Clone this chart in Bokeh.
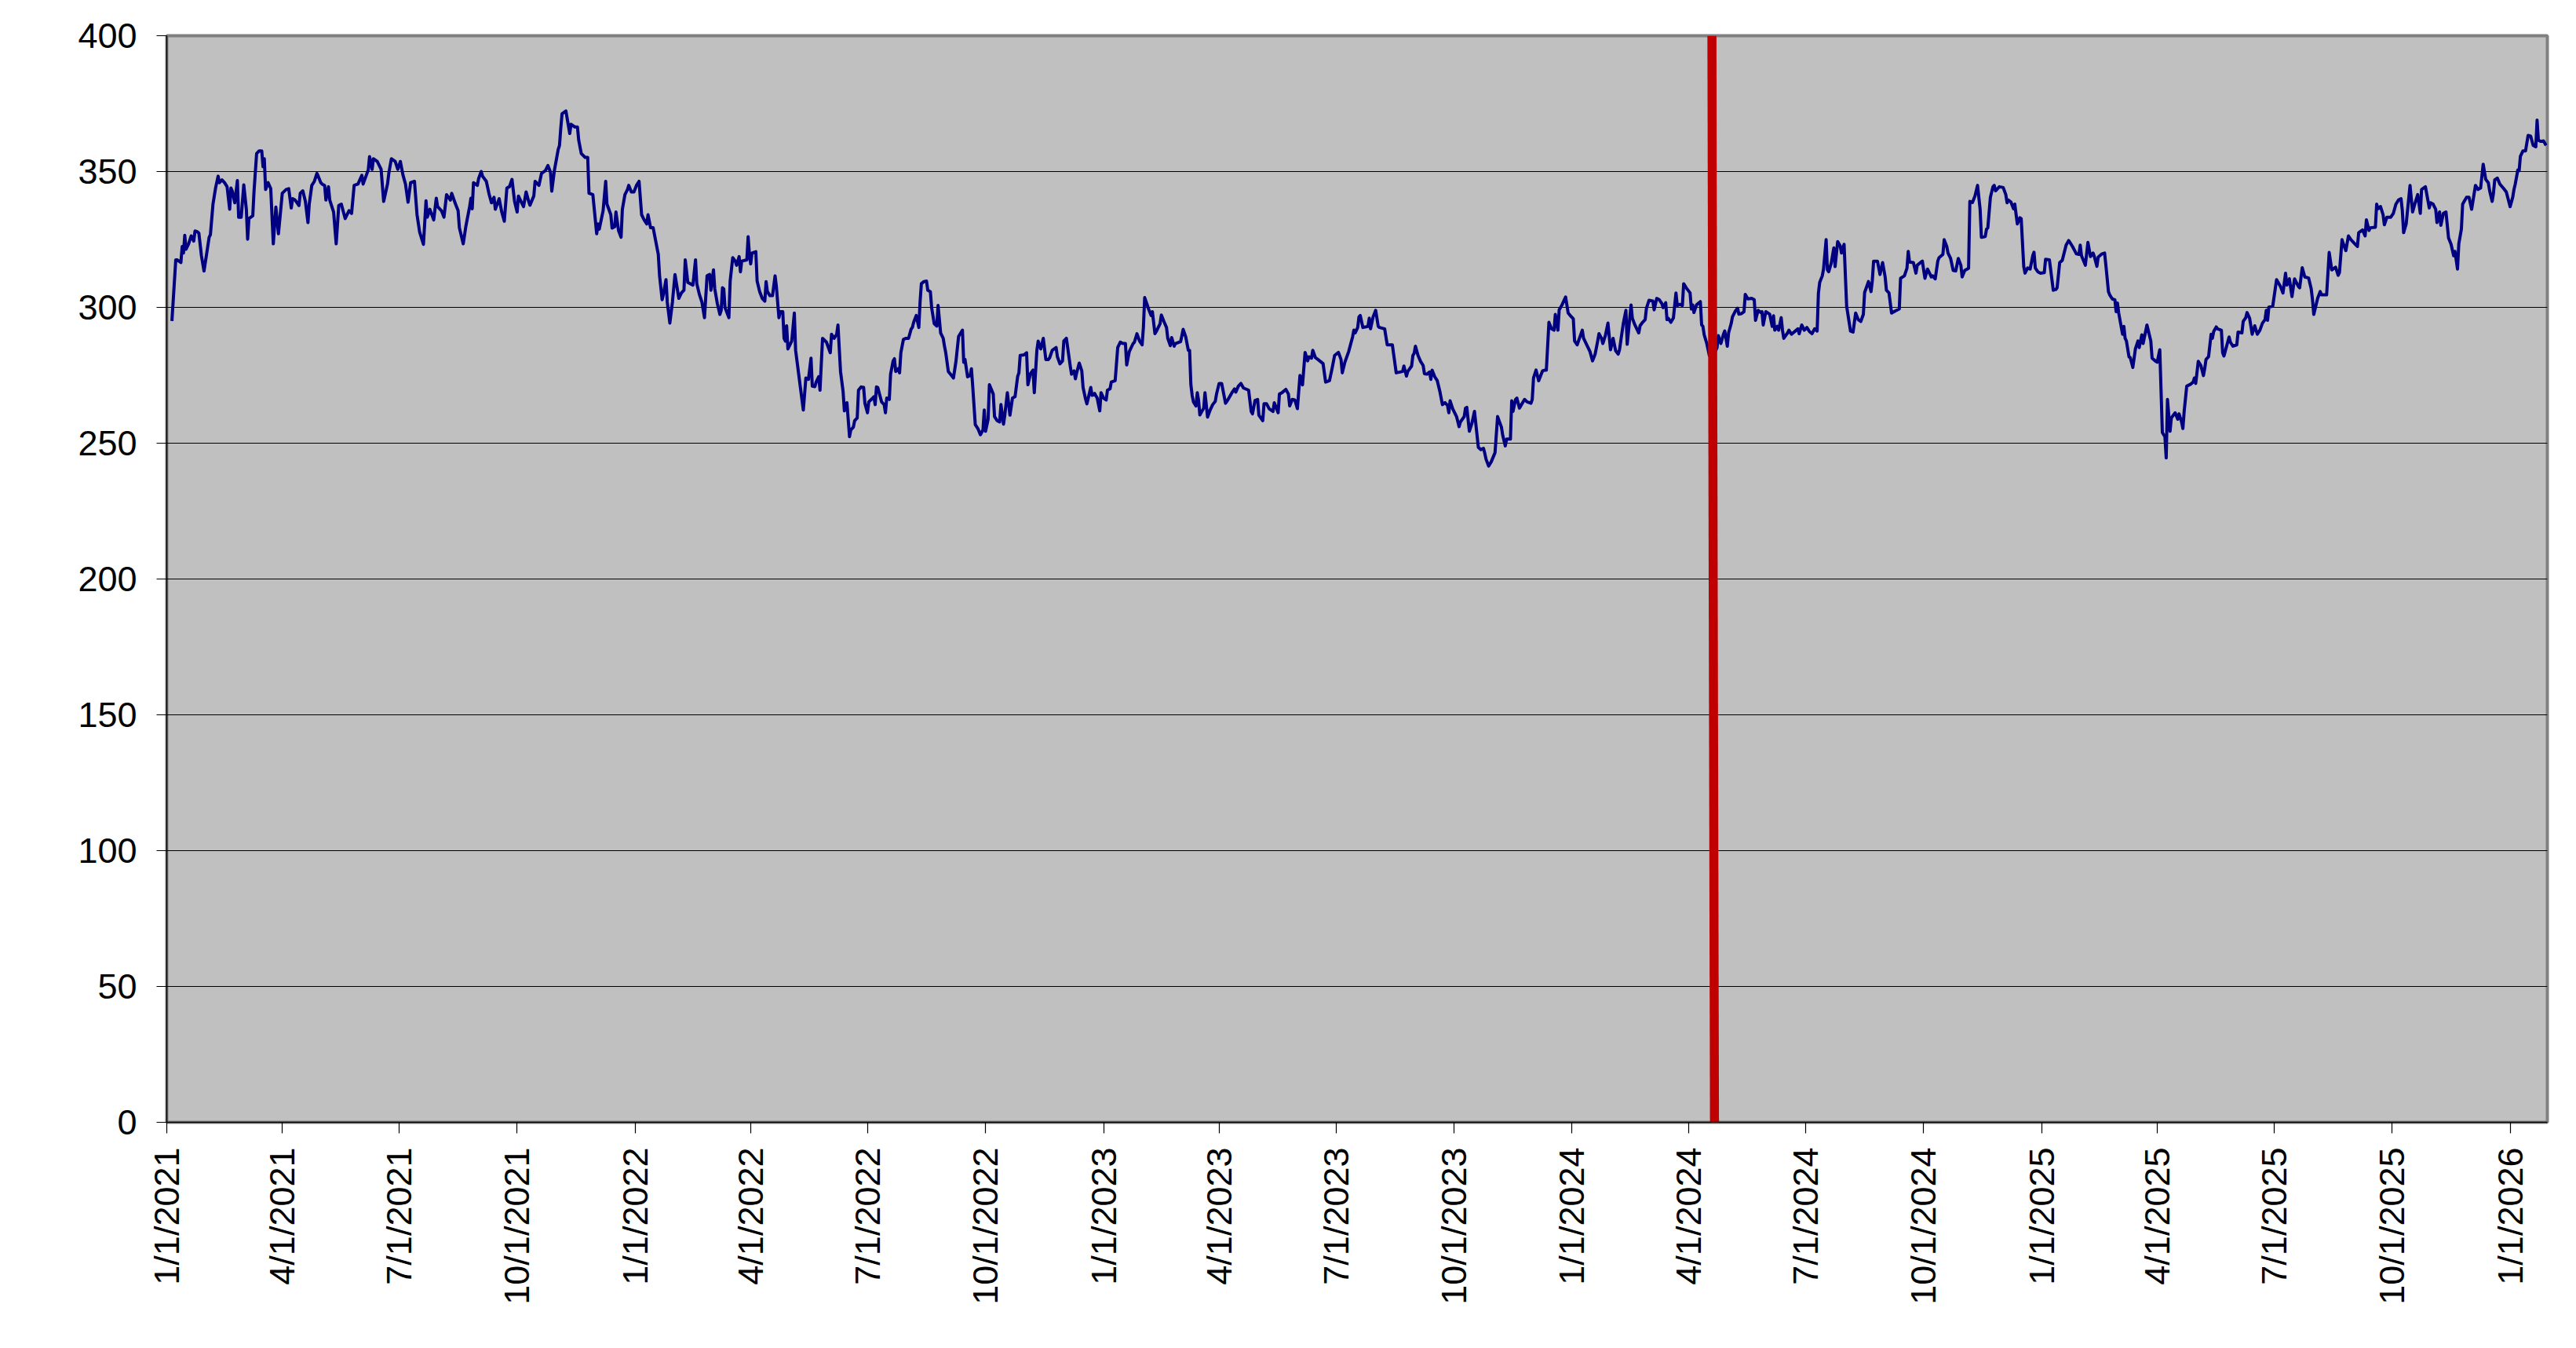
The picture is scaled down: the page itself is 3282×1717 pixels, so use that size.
import math
import pandas as pd
from bokeh.plotting import figure
from bokeh.models import FixedTicker, CustomJSTickFormatter, Range1d
from bokeh.embed import file_html
from bokeh.resources import INLINE

# ---------------- data ----------------
start_date = "2021-01-01"          # day 0 of the series offsets
x_end_date = "2026-01-30"          # right end of the date axis

# observation day (days since start_date) and value
day_offset = [
    4, 7, 8, 11, 12, 13, 14, 15, 17, 19, 21, 22, 24, 25, 27, 29, 31, 33, 34, 36, 38, 40, 41, 43, 45, 47, 49, 50,
    51, 53, 55, 56, 58, 60, 62, 63, 64, 67, 68, 70, 72, 74, 75, 76, 77, 79, 81, 83, 85, 87, 90, 93, 95, 97, 98,
    100, 103, 104, 106, 108, 110, 111, 113, 115, 117, 118, 120, 121, 123, 124, 126, 127, 130, 132, 134, 136, 139,
    142, 144, 146, 149, 152, 153, 157, 158, 160, 161, 164, 167, 169, 172, 173, 175, 178, 180, 182, 184, 186, 188,
    190, 193, 195, 197, 200, 202, 203, 205, 208, 210, 211, 214, 216, 218, 221, 222, 225, 227, 228, 231, 233, 236,
    237, 238, 239, 242, 243, 245, 246, 249, 251, 253, 255, 256, 259, 261, 263, 265, 267, 269, 271, 273, 274, 276,
    278, 280, 282, 283, 286, 287, 290, 292, 295, 297, 299, 300, 302, 305, 306, 307, 308, 311, 314, 315, 318, 320,
    321, 323, 326, 328, 329, 332, 335, 336, 337, 340, 342, 343, 346, 347, 349, 350, 352, 354, 355, 357, 359, 360,
    362, 364, 366, 368, 370, 372,
    374, 375, 377, 379, 381, 383, 384, 386, 387, 389, 390, 392, 394, 396, 399, 401, 403, 404, 406, 410, 412, 413,
    415, 417, 419, 421, 423, 424, 426, 427, 429, 431, 432, 433, 434, 435, 438, 439, 441, 443, 444, 446, 447, 448,
    452, 453, 454, 455, 456, 459, 460, 462, 464, 466, 467, 468, 470, 472, 474, 475, 477, 478, 480, 481, 482, 483,
    484, 487, 489, 490, 494, 496, 497, 498, 500, 502, 503, 505, 506, 508, 509, 511, 514, 517, 518, 520, 522, 523,
    525, 527, 528, 530, 532, 533, 535, 536, 538, 539, 541, 543, 544, 546, 547, 549, 551, 552, 553, 554, 557, 559,
    560, 561, 563, 564, 566, 567, 568, 570, 571, 572, 574, 576, 578, 580, 581, 582, 584, 586, 587, 588, 590, 592,
    593, 595, 596, 598, 600, 601, 603, 605, 606, 607, 609, 611, 613, 615, 617, 620, 621, 622, 624, 626, 627, 628,
    630, 632, 634, 636, 637, 638, 640, 641, 644, 645, 647, 649, 650, 652, 653, 655, 657, 659, 661, 663, 664, 665,
    668, 670, 671, 673, 675, 676, 678, 679, 681, 683, 685, 687, 688, 690, 693, 694, 696, 698, 699, 701, 704, 705,
    707, 708, 709, 711, 713, 714, 716, 717, 720, 721, 723, 725, 727, 728, 730, 732, 733, 735, 736, 739, 741, 743,
    745,
    747, 748, 750, 753, 754, 756, 758, 760, 761, 762, 764, 765, 767, 768, 770, 771, 774, 775, 777, 779, 780, 782,
    783, 785, 786, 790, 791, 792, 794, 796, 797, 798, 799, 800, 802, 803, 804, 805, 808, 809, 811, 813, 815, 817,
    818, 820, 822, 825, 827, 830, 832, 833, 835, 837, 839, 843, 845, 846, 848, 850, 851, 854, 855, 857, 859, 862,
    863, 866, 867, 869, 872, 874, 875, 877, 879, 881, 883, 885, 887, 889, 890, 892, 893, 895, 897, 901, 903, 906,
    908, 910, 913, 915, 916, 918, 921, 924, 925, 926, 928, 929, 930, 932, 936, 937, 938, 940, 942, 944, 945, 949,
    951, 955, 958, 961, 963, 964, 966, 967, 970, 971, 972, 973, 975, 977, 979, 980, 982, 984, 985, 986, 988, 990,
    992, 994, 996, 998, 999, 1000, 1002, 1005, 1007, 1008, 1011, 1012, 1013, 1015, 1017, 1019, 1022, 1024, 1026,
    1027, 1028, 1030, 1032, 1035, 1037, 1040, 1041, 1043, 1044, 1047, 1048, 1049, 1051, 1052, 1054, 1058, 1060,
    1063, 1064, 1065, 1067, 1069, 1072, 1074, 1075, 1077, 1079, 1081, 1082, 1084, 1085, 1087, 1089, 1090, 1092,
    1094, 1096, 1097, 1099, 1101, 1103, 1104, 1106, 1109, 1111, 1113, 1115, 1116, 1118,
    1119, 1121, 1123, 1125, 1127, 1129, 1131, 1132, 1135, 1137, 1138, 1141, 1142, 1144, 1147, 1148, 1150, 1152,
    1153, 1155, 1158, 1159, 1161, 1163, 1165, 1166, 1168, 1169, 1170, 1172, 1174, 1176, 1177, 1179, 1181, 1182,
    1184, 1187, 1188, 1189, 1190, 1192, 1195, 1196, 1197, 1198, 1200, 1202, 1204, 1208, 1209, 1211, 1213, 1214,
    1216, 1217, 1219, 1220, 1222, 1224, 1225, 1227, 1229, 1230, 1232, 1235, 1237, 1238, 1240, 1242, 1243, 1244,
    1246, 1249, 1251, 1252, 1253, 1255, 1256, 1258, 1259, 1260, 1263, 1264, 1266, 1269, 1271, 1272, 1274, 1276,
    1278, 1280, 1282, 1284, 1286, 1287, 1288, 1290, 1291, 1293, 1294, 1295, 1297, 1299, 1300, 1302, 1304, 1305,
    1307, 1309, 1312, 1314, 1316, 1318, 1320, 1322, 1323, 1324, 1326, 1328, 1329, 1330, 1333, 1335, 1337, 1339,
    1340, 1342, 1344, 1347, 1350, 1351, 1354, 1356, 1357, 1358, 1361, 1363, 1364, 1367, 1368, 1370, 1372, 1375,
    1376, 1378, 1380, 1381, 1384, 1385, 1387, 1388, 1390, 1392, 1394, 1396, 1398, 1399, 1401, 1404, 1405, 1407,
    1409, 1411, 1413, 1414, 1417, 1418, 1419, 1421, 1423, 1424, 1425, 1428, 1431, 1433, 1434, 1435, 1437, 1439,
    1440, 1442, 1444, 1445, 1447, 1448, 1450, 1452, 1454, 1455, 1456, 1458, 1460, 1463, 1464, 1467, 1468, 1470,
    1472, 1473, 1475, 1477, 1480, 1482, 1483, 1485, 1488, 1490,
    1491, 1492, 1495, 1497, 1499, 1501, 1502, 1504, 1505, 1508, 1510, 1511, 1513, 1514, 1516, 1518, 1519, 1520,
    1521, 1524, 1525, 1526, 1527, 1529, 1530, 1532, 1534, 1536, 1537, 1539, 1540, 1543, 1545, 1546, 1547, 1550,
    1551, 1553, 1555, 1557, 1558, 1559, 1561, 1562, 1565, 1567, 1568, 1570, 1571, 1572, 1574, 1577, 1579, 1580,
    1581, 1583, 1585, 1587, 1588, 1589, 1591, 1593, 1594, 1595, 1597, 1598, 1601, 1602, 1603, 1604, 1607, 1608,
    1610, 1613, 1614, 1617, 1618, 1620, 1621, 1623, 1625, 1627, 1629, 1631, 1633, 1635, 1636, 1637, 1638, 1641,
    1644, 1647, 1649, 1651, 1652, 1654, 1656, 1658, 1661, 1662, 1664, 1666, 1669, 1671, 1672, 1673, 1676, 1678,
    1679, 1683, 1685, 1687, 1690, 1692, 1693, 1695, 1696, 1698, 1700, 1702, 1705, 1707, 1708, 1711, 1713, 1714,
    1716, 1717, 1721, 1722, 1723, 1725, 1727, 1728, 1730, 1733, 1735, 1737, 1739, 1741, 1742, 1743, 1745, 1748,
    1750, 1752, 1754, 1756, 1757, 1760, 1763, 1764, 1766, 1768, 1769, 1771, 1772, 1774, 1776, 1778, 1780, 1782,
    1783, 1785, 1786, 1788, 1789, 1792, 1794, 1796, 1799, 1801, 1803, 1805, 1807, 1809, 1810, 1812, 1813, 1814,
    1816, 1818, 1821, 1823, 1826, 1828, 1829, 1830, 1832, 1833, 1834, 1836, 1838, 1840, 1842, 1844, 1846, 1847,
    1848, 1850, 1852, 1854,
]

value = [
    295.0, 317.5, 317.5, 316.5, 322.4, 320.0, 326.5, 321.4, 323.4, 326.3, 324.4, 328.1, 327.8, 327.3, 319.0, 313.4,
    319.5, 325.8, 326.8, 338.0, 343.9, 348.3, 345.9, 346.9, 345.9, 344.4, 336.1, 343.9, 342.9, 338.5, 346.7, 333.2,
    333.2, 345.1, 336.1, 325.1, 332.7, 333.7, 342.9, 356.6, 357.6, 357.6, 351.8, 354.7, 343.4, 345.9, 343.7, 323.4,
    336.9, 327.1, 342.0, 343.4, 343.7, 336.6, 340.0, 339.5, 337.5, 342.0, 342.9, 339.0, 331.2, 338.0, 344.9, 346.4,
    349.3, 348.3, 345.9, 345.4, 344.9, 339.5, 344.4, 339.5, 335.1, 323.4, 337.5, 338.0, 332.7, 335.6, 334.6, 344.9,
    345.4, 348.6, 345.4, 350.6, 355.5, 350.8, 354.7, 353.7, 350.8, 339.0, 345.4, 349.3, 354.7, 353.7, 350.8, 353.7,
    348.8, 345.4, 338.7, 345.9, 346.4, 334.1, 327.8, 323.2, 339.2, 333.2, 336.1, 332.2, 340.2, 337.1, 335.6, 333.2,
    341.5, 339.5, 342.0, 338.0, 335.6, 329.3, 323.4, 329.7, 337.1, 340.2, 336.3, 345.9, 344.9, 347.4, 350.0, 348.3,
    346.4, 342.0, 338.5, 340.5, 336.1, 340.0, 335.1, 331.7, 343.9, 344.4, 347.1, 339.0, 335.1, 341.0, 339.0, 337.1,
    342.5, 339.0, 337.6, 341.0, 346.4, 344.9, 349.3, 350.3, 352.2, 349.8, 342.8, 350.3, 358.1, 359.6, 365.9, 371.3,
    372.3, 364.0, 367.4, 366.4, 366.4, 361.5, 356.6, 355.2, 355.2, 342.0, 341.5, 327.1, 330.7, 328.8, 335.6, 346.4,
    338.0, 334.1, 329.2, 329.7, 335.1, 328.3, 325.8, 336.1, 341.5, 343.4, 344.9, 342.5, 342.5, 344.9, 346.4, 334.1,
    332.2,
    330.7, 334.1, 329.3, 329.3, 324.4, 319.5, 311.6, 302.8, 304.8, 310.2, 301.9, 294.2, 301.9, 312.1, 303.3, 305.3,
    306.3, 317.5, 309.2, 308.2, 317.5, 308.7, 304.8, 301.9, 296.2, 311.6, 312.1, 306.3, 313.8, 306.8, 301.4, 297.4,
    298.9, 307.2, 306.8, 299.9, 296.2, 309.7, 318.3, 317.0, 315.5, 318.7, 313.1, 317.0, 317.5, 326.0, 319.5, 316.0,
    320.0, 320.5, 309.7, 305.8, 303.3, 302.3, 309.5, 305.8, 304.3, 304.3, 311.6, 307.7, 296.2, 298.4, 298.4, 288.6,
    287.6, 293.2, 284.7, 287.6, 297.9, 284.2, 269.5, 262.2, 268.1, 274.0, 273.5, 281.3, 271.0, 270.8, 272.5, 274.5,
    269.5, 288.6, 287.2, 283.3, 290.1, 288.6, 290.1, 293.5, 276.4, 269.0, 261.9, 264.9, 252.4, 254.9, 255.9, 258.3,
    259.3, 269.5, 270.7, 270.5, 264.7, 261.2, 265.2, 266.1, 267.1, 264.2, 270.7, 270.5, 265.2, 264.2, 261.2, 266.6,
    266.1, 275.4, 280.3, 281.1, 276.4, 277.4, 275.9, 283.3, 288.2, 288.6, 288.6, 292.0, 292.6, 294.5, 297.0, 292.6,
    302.1, 308.7, 309.5, 309.7, 306.3, 305.8, 299.9, 294.0, 293.1, 300.7, 290.6, 288.6, 285.7, 283.3, 276.4, 275.2,
    274.0, 280.3, 289.3, 291.6, 279.8, 280.8, 274.4, 274.9, 277.4, 271.0, 256.8, 255.4, 253.1, 254.9, 262.2, 254.4,
    258.8, 271.5, 268.1, 259.8, 258.3, 257.8, 264.2, 257.0, 260.3, 268.6, 260.3, 266.6, 267.1, 274.5, 275.9, 282.3,
    282.5, 283.3, 271.5, 275.6, 276.9, 268.6, 284.2, 287.6, 284.7, 288.6, 280.8, 280.8, 281.5, 284.2, 285.2, 281.8,
    279.2, 280.3, 287.6, 288.6, 278.4, 275.4, 276.6, 273.7, 275.9, 279.5, 276.6, 270.5, 266.1, 264.5, 270.5, 267.6,
    268.3, 266.6, 261.9, 268.6, 266.6, 265.9, 269.5, 270.0, 272.5, 273.0, 285.2, 287.2, 286.7,
    286.7, 278.8, 283.7, 286.7, 287.2, 290.3, 287.6, 286.2, 292.6, 303.6, 300.9, 299.4, 297.0, 298.4, 290.3, 291.1,
    294.0, 297.2, 294.8, 292.6, 288.6, 285.9, 288.9, 285.7, 286.7, 287.4, 289.6, 291.9, 289.1, 284.2, 284.2, 271.5,
    267.6, 265.2, 263.7, 268.6, 265.7, 260.4, 262.9, 268.6, 259.6, 262.2, 264.2, 265.4, 268.1, 272.0, 272.0, 264.7,
    266.1, 268.6, 270.0, 268.8, 271.0, 272.0, 270.3, 269.5, 261.7, 260.8, 265.7, 266.1, 260.3, 258.3, 264.5, 264.5,
    262.7, 261.7, 264.9, 261.2, 268.1, 268.6, 269.8, 268.1, 263.7, 266.1, 265.9, 262.7, 274.9, 271.5, 283.4, 280.3,
    281.8, 281.3, 284.2, 281.5, 280.8, 279.3, 272.5, 273.0, 277.4, 282.3, 283.4, 280.8, 275.9, 279.8, 283.8, 289.1,
    291.6, 290.6, 292.6, 296.5, 297.0, 292.6, 293.0, 296.0, 292.1, 296.5, 298.9, 293.0, 292.6, 292.1, 286.2, 286.2,
    275.9, 276.2, 276.4, 278.4, 274.7, 276.4, 278.4, 282.3, 283.1, 285.7, 282.3, 280.1, 278.6, 275.6, 275.4, 276.2,
    273.5, 276.9, 274.5, 273.0, 269.1, 264.2, 264.9, 263.9, 261.2, 265.6, 262.7, 259.8, 256.1, 257.8, 259.8, 262.9,
    263.2, 254.4, 257.3, 261.7, 248.5, 247.6, 248.1, 246.3, 244.1, 241.6, 243.1, 246.5, 259.8, 255.9, 252.9, 249.0,
    251.5, 251.5, 265.6, 261.7, 266.1, 266.6, 262.9, 266.1, 265.2, 264.7, 266.1, 274.0, 276.9, 273.0, 276.6, 276.9,
    276.9, 294.5, 292.1, 291.6, 297.4, 291.6, 299.1, 300.7, 302.8, 303.8, 297.9, 296.8, 295.8, 287.6, 286.2, 288.9,
    291.6, 288.6, 286.7, 283.7, 280.3, 282.8, 287.6, 290.3, 288.6,
    286.7, 289.6, 294.2, 284.4, 288.6, 284.0, 282.8, 284.4, 294.2, 298.9, 286.4, 300.9, 296.0, 293.5, 290.6, 293.2,
    294.5, 295.5, 299.7, 302.6, 302.3, 299.1, 303.3, 302.8, 301.4, 299.9, 301.7, 295.5, 296.0, 294.5, 296.1, 305.3,
    300.7, 301.1, 300.7, 308.7, 307.2, 305.3, 299.4, 300.9, 298.1, 300.9, 302.1, 293.5, 293.0, 289.9, 286.7, 282.3,
    281.0, 285.2, 289.6, 286.7, 290.1, 291.3, 285.7, 290.6, 294.0, 296.5, 298.4, 299.7, 297.5, 297.7, 298.4, 304.8,
    303.1, 303.3, 302.8, 295.2, 298.9, 298.1, 298.4, 293.5, 298.4, 297.5, 293.0, 296.9, 291.6, 293.0, 291.6, 296.2,
    291.6, 288.6, 290.6, 291.6, 290.1, 291.3, 292.1, 290.3, 293.5, 291.6, 292.6, 291.1, 290.3, 292.1, 291.3, 305.3,
    309.2, 311.6, 314.1, 324.9, 313.8, 313.1, 316.3, 321.9, 315.0, 324.2, 322.6, 320.0, 323.2, 300.4, 291.3, 290.9,
    297.9, 295.5, 294.8, 297.4, 305.5, 306.8, 309.5, 305.8, 309.9, 317.0, 317.0, 312.1, 316.5, 311.2, 306.3, 305.3,
    297.9, 298.7, 299.4, 310.7, 311.6, 314.4, 320.6, 316.7, 316.5, 312.6, 315.5, 316.7, 317.0, 310.7, 314.1, 311.2,
    311.6, 310.5, 317.0, 318.3, 319.5, 324.9, 322.4, 320.0, 318.0, 313.6, 313.4, 318.0, 315.5, 311.2, 313.6, 314.4,
    339.0, 338.6, 341.0, 344.9, 336.1, 325.8, 326.1, 328.8, 329.3, 340.5, 344.4, 344.9, 342.9, 344.4, 344.1, 341.5,
    338.5, 339.5, 338.8, 336.3, 338.0, 330.7, 333.0, 332.7, 315.0, 312.6, 314.5, 314.1, 319.0, 320.3, 314.5, 313.1,
    312.6, 312.8, 317.7, 317.5, 313.8, 306.3, 306.6, 307.2, 316.5, 317.3, 322.9, 324.6, 323.9, 322.4, 319.7, 319.5,
    322.9, 319.0, 315.5, 323.9, 318.7, 320.0, 318.7, 315.1, 318.5, 319.7, 320.0, 315.5, 305.8, 304.6, 303.1, 302.8,
    298.4, 301.6, 297.9, 290.1, 293.0, 288.6, 287.6, 281.8, 281.5, 277.9, 284.7, 287.6, 285.2, 289.9, 286.7, 293.5,
    289.6, 287.6, 281.3, 280.1, 279.8, 284.4, 253.9, 252.4, 244.6, 266.1, 254.4, 259.3, 261.2, 258.8, 260.8, 257.8,
    255.4, 261.7, 271.0, 271.7, 272.5, 274.0, 272.0, 280.1, 278.6, 274.9, 277.4, 280.8, 281.8, 290.1, 288.6, 291.1,
    292.8, 292.1, 291.6, 283.3, 282.1, 283.8, 289.1, 287.2, 285.7, 286.2, 290.9, 290.6, 294.8, 296.2, 298.1, 296.0,
    290.1, 293.2, 290.1, 291.6, 294.2, 295.5, 298.9, 295.2, 300.1, 300.4, 310.2, 307.7, 305.3, 312.6, 308.2, 310.5,
    304.0, 310.5, 307.7, 307.2, 314.6, 311.2, 310.8, 306.8, 302.8, 297.4, 303.3, 305.8, 304.6, 304.6, 320.2, 313.8,
    314.8, 311.8, 312.8, 324.9, 323.4, 320.9, 326.3, 324.9, 323.4, 322.4, 327.5, 328.5, 326.3, 332.2, 328.3, 329.3,
    329.5, 338.0, 336.3, 337.1, 334.1, 330.4, 333.2, 333.2, 334.6, 338.0, 339.5, 340.0, 335.6, 327.5, 330.7, 344.9,
    335.1, 338.5, 341.5, 334.6, 343.4, 344.4, 336.6, 338.5, 338.0, 336.1, 331.2, 335.1, 330.2, 334.6, 335.1, 325.6,
    323.2, 319.0, 320.6, 314.1, 323.4, 328.8, 338.0, 340.5, 340.5, 336.1, 344.9, 343.4, 343.9, 352.7, 347.1, 345.9,
    343.0, 339.0, 342.0, 346.9, 347.6, 345.4, 343.7, 342.5, 337.1, 340.5, 343.4, 345.4, 350.6, 350.3, 355.6, 357.6,
    357.6, 363.3, 363.0, 359.6, 359.1, 368.9, 361.5, 361.1, 361.3, 359.6,
]

x_tick_dates = [
    "2021-01-01", "2021-04-01", "2021-07-01", "2021-10-01",
    "2022-01-01", "2022-04-01", "2022-07-01", "2022-10-01",
    "2023-01-01", "2023-04-01", "2023-07-01", "2023-10-01",
    "2024-01-01", "2024-04-01", "2024-07-01", "2024-10-01",
    "2025-01-01", "2025-04-01", "2025-07-01", "2025-10-01",
    "2026-01-01",
]
y_ticks = [0, 50, 100, 150, 200, 250, 300, 350, 400]
y_min, y_max = 0, 400

# red marker line (slightly slanted): date at its top and at its bottom
marker_top_date = "2024-04-19"
marker_bottom_date = "2024-04-21"

# ---------------- build ----------------
start = pd.Timestamp(start_date)
dates = start + pd.to_timedelta(day_offset, unit="D")

def ms(d):
    return pd.Timestamp(d).value / 1e6

p = figure(
    width=3266, height=1690,
    x_axis_type="datetime",
    x_range=Range1d(start=start, end=pd.Timestamp(x_end_date)),
    y_range=Range1d(start=y_min, end=y_max),
    output_backend="svg", toolbar_location=None,
    min_border_left=212, min_border_right=21, min_border_top=45, min_border_bottom=261,
)
p.background_fill_color = "#C0C0C0"
p.border_fill_color = "white"
p.outline_line_color = "#808080"
p.outline_line_width = 4

p.xgrid.visible = False
p.ygrid.ticker = FixedTicker(ticks=y_ticks)
p.ygrid.grid_line_color = "black"
p.ygrid.grid_line_width = 1.2

p.yaxis.ticker = FixedTicker(ticks=y_ticks)
p.xaxis.ticker = FixedTicker(ticks=[ms(d) for d in x_tick_dates])
p.xaxis.formatter = CustomJSTickFormatter(code="""
const d = new Date(tick);
return (d.getUTCMonth() + 1) + "/" + d.getUTCDate() + "/" + d.getUTCFullYear();
""")
p.xaxis.major_label_orientation = math.pi / 2

for ax in (p.xaxis[0], p.yaxis[0]):
    ax.axis_line_color = "black"
    ax.axis_line_width = 1.5
    ax.major_tick_line_color = "black"
    ax.major_tick_line_width = 1.2
    ax.major_tick_in = 0
    ax.minor_tick_line_color = None
    ax.major_label_text_font = "Liberation Sans"
    ax.major_label_text_font_size = "45px"
    ax.major_label_text_color = "black"
p.yaxis.major_tick_out = 13
p.yaxis.major_label_standoff = 25
p.xaxis.major_tick_out = 14
p.xaxis.major_label_standoff = 18

p.line(dates, value, line_color="#000080", line_width=4, line_join="round")
p.segment(x0=[pd.Timestamp(marker_top_date)], y0=[y_max],
          x1=[pd.Timestamp(marker_bottom_date)], y1=[y_min],
          line_color="#C00000", line_width=11.5)

open("out.html", "w").write(file_html(p, INLINE))
